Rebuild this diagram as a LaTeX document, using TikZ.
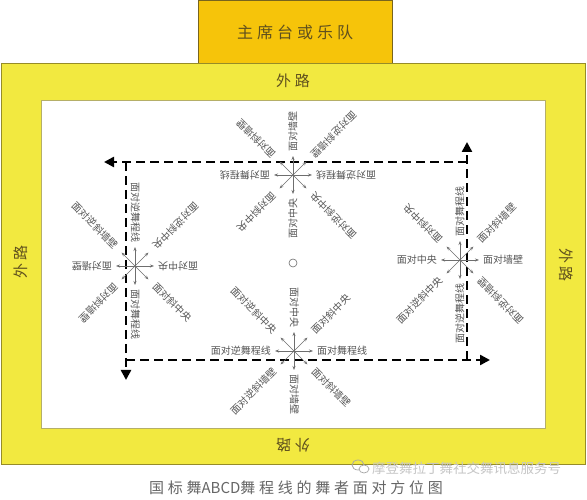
\documentclass[tikz,border=0pt]{standalone}
\usepackage{fontspec}
\newfontfamily\cjk{Noto Sans CJK SC}
\newfontfamily\cjkw[LetterSpace=25]{Noto Sans CJK SC}
\usetikzlibrary{arrows.meta}
\definecolor{band}{RGB}{242,233,64}
\definecolor{bandline}{RGB}{150,140,40}
\definecolor{chair}{RGB}{246,196,10}
\definecolor{chairline}{RGB}{120,100,30}
\definecolor{olive}{RGB}{95,80,30}
\definecolor{lblgray}{RGB}{85,85,85}
\definecolor{arrgray}{RGB}{110,110,110}
\tikzset{
  facearrow/.style={draw=arrgray, line width=0.6pt, -{Stealth[length=4pt,width=3pt]}},
  facelbl/.style={font=\cjk\fontsize{10}{10}\selectfont, text=lblgray, inner sep=0pt, text height=7.5pt, text depth=0.5pt},
  lodline/.style={line width=2.4pt, dash pattern=on 9pt off 5pt, -{Triangle[length=10pt,width=10pt]}},
  roadlbl/.style={font=\cjkw\fontsize{15}{15}\selectfont, text=olive, inner sep=0pt}
}
\newcommand\facestar[4]{%
  \coordinate (#1) at (#2,#3);
  \begin{scope}[shift={(#1)}, rotate=#4, transform shape]
    \foreach \a in {0,45,...,315} \draw[facearrow] (0,0) -- (\a:19);
    \node[facelbl, anchor=west] (#1-a) at (0:23) {面对舞程线};
    \node[facelbl, rotate=45, anchor=west] (#1-b) at (45:27) {面对斜中央};
    \node[facelbl, rotate=-90, anchor=east] (#1-c) at (90:23) {面对中央};
    \node[facelbl, rotate=-45, anchor=east] (#1-d) at (135:27) {面对逆斜中央};
    \node[facelbl, anchor=east] (#1-e) at (180:23) {面对逆舞程线};
    \node[facelbl, rotate=45, anchor=east] (#1-f) at (-135:27) {面对逆斜墙壁};
    \node[facelbl, rotate=-90, anchor=west] (#1-g) at (-90:23) {面对墙壁};
    \node[facelbl, rotate=-45, anchor=west] (#1-h) at (-45:27) {面对斜墙壁};
  \end{scope}}
\begin{document}
\begin{tikzpicture}[x=1pt,y=1pt]
\useasboundingbox (0,0) rectangle (587,500);
\fill[white] (0,0) rectangle (587,500);
% chair box
\node[draw=chairline, fill=chair, line width=0.8pt, minimum width=194pt, minimum height=63pt, anchor=north, inner sep=0pt,
      font=\cjkw\fontsize{16}{16}\selectfont, text=olive] (chairbox) at (295,500) {主席台或乐队};
% outer band and inner floor
\draw[draw=bandline, fill=band, line width=0.8pt] (1,36) rectangle (585,437);
\draw[draw=bandline!70, fill=white, line width=0.6pt] (41,72) rectangle (545,400);
% road labels
\node[roadlbl] (roadtop) at (293,419) {外路};
\node[roadlbl, rotate=90] (roadleft) at (21,238) {外路};
\node[roadlbl, rotate=-90] (roadright) at (566,235) {外路};
\node[roadlbl, rotate=180] (roadbottom) at (293,55) {外路};
% line of dance
\coordinate (tl) at (126,338);
\coordinate (tlend) at (104,338);
\coordinate (bl) at (126,140);
\coordinate (blend) at (126,120);
\coordinate (br) at (467,140);
\coordinate (brend) at (490,140);
\coordinate (tr) at (467,338);
\coordinate (trend) at (467,358);
\draw[lodline] (tr) -- (tlend);
\draw[lodline] (tl) -- (blend);
\draw[lodline] (bl) -- (brend);
\draw[lodline] (br) -- (trend);
% centre mark
\node[draw=arrgray, circle, minimum size=8pt, inner sep=0pt, line width=0.6pt] (centre) at (293,237) {};
% facing stars
\facestar{sb}{294}{149}{0}
\facestar{st}{293}{325}{180}
\facestar{sl}{135}{234}{-90}
\facestar{sr}{460}{240}{90}
% watermark
\begin{scope}[shift={(358,33)}]
  \draw[gray!70, line width=0.7pt] (0,2) ellipse (6pt and 5pt);
  \draw[gray!70, line width=0.7pt, fill=white] (6,-2) ellipse (5pt and 4pt);
\end{scope}
\node[font=\cjk\fontsize{13.5}{13.5}\selectfont, text=gray!45, inner sep=0pt, anchor=west] (wm) at (372,32) {摩登舞拉丁舞社交舞讯息服务号};
% caption
\node[font=\cjkw\fontsize{15}{15}\selectfont, text=lblgray!90, inner sep=0pt] (caption) at (296,12) {国标舞{\addfontfeature{LetterSpace=0}ABCD}舞程线的舞者面对方位图};
\end{tikzpicture}
\end{document}
